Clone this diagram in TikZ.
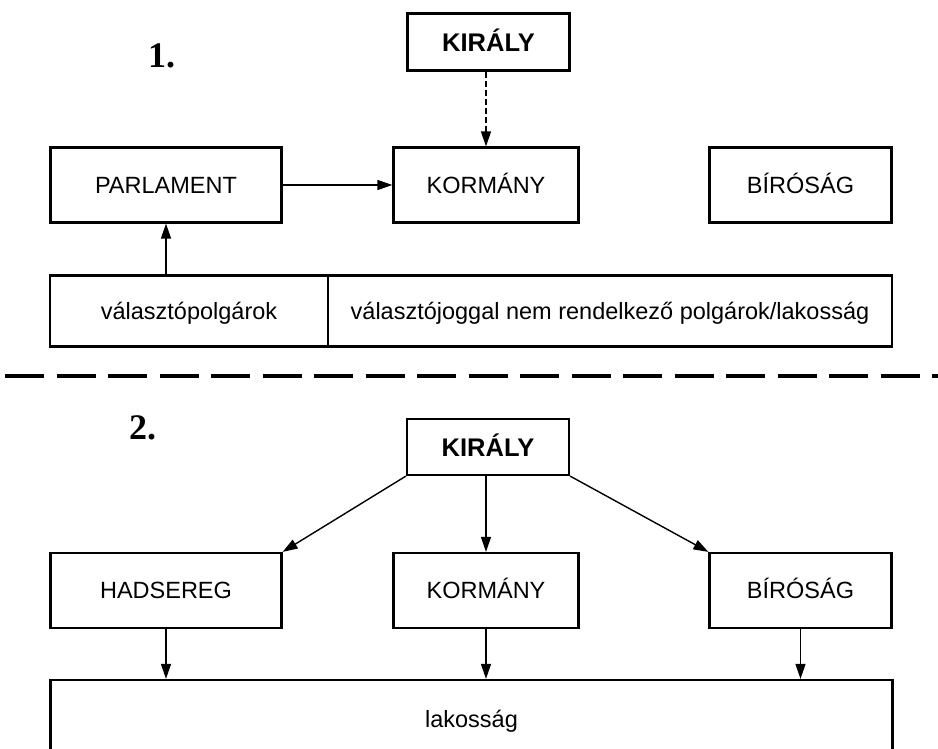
\documentclass[tikz,border=0pt]{standalone}
\usepackage{fontspec}
\setmainfont{Liberation Sans}
\newfontfamily\numfont{Liberation Serif}
\usetikzlibrary{arrows.meta}
\begin{document}
\begin{tikzpicture}[x=1pt,y=-1pt,
  box/.style={draw, line width=2.2pt, inner sep=0pt, text height=16.8pt, text depth=0pt, font=\fontsize{23.5}{26}\selectfont},
  kbox/.style={box, text height=18.3pt, font=\fontsize{25.5}{28}\selectfont\bfseries},
  arr/.style={line width=1.4pt, -{Triangle[length=15pt,width=10pt]}},
  numlab/.style={anchor=base west, inner sep=0pt, font=\fontsize{36}{40}\selectfont\numfont\bfseries}]
\clip (0,0) rectangle (938,749);
\fill[white] (0,0) rectangle (938,749);
% --- part 1 ---
\node[numlab] (n1) at (148,68) {1.};
\node[kbox, minimum width=162pt, minimum height=57pt] (K1) at (488.5,42) {KIRÁLY};
\node[box, minimum width=231pt, minimum height=75pt] (PARL) at (166,185) {PARLAMENT};
\node[box, minimum width=185pt, minimum height=75pt] (KORM1) at (486,185) {KORMÁNY};
\node[box, minimum width=182pt, minimum height=75pt] (BIR1) at (800.5,185) {BÍRÓSÁG};
\node[box, minimum width=278pt, minimum height=71pt] (VAL) at (189,311) {választópolgárok};
\node[box, minimum width=564pt, minimum height=71pt] (NEM) at (610,311) {választójoggal nem rendelkező polgárok/lakosság};
\draw[arr, dash pattern=on 6pt off 3pt] (K1.south -| KORM1.north) -- (KORM1.north);
\draw[arr] (PARL.east) -- (KORM1.west);
\draw[arr] (PARL.south |- VAL.north) -- (PARL.south);
% --- separator ---
\coordinate (sepL) at (5,376);
\coordinate (sepR) at (940,376);
\draw[line width=4.5pt, dash pattern=on 39pt off 12.5pt] (sepL) -- (sepR);
% --- part 2 ---
\node[numlab] (n2) at (129,439) {2.};
\node[kbox, minimum width=162pt, minimum height=56pt] (K2) at (488,447) {KIRÁLY};
\node[box, minimum width=231pt, minimum height=75pt] (HAD) at (166,590.5) {HADSEREG};
\node[box, minimum width=185pt, minimum height=75pt] (KORM2) at (486,590.5) {KORMÁNY};
\node[box, minimum width=182pt, minimum height=75pt] (BIR2) at (800.5,590.5) {BÍRÓSÁG};
\node[box, minimum width=842pt, minimum height=78pt] (LAK) at (471.5,719) {lakosság};
\draw[arr] (K2.south west) -- (HAD.north east);
\draw[arr] (K2.south -| KORM2.north) -- (KORM2.north);
\draw[arr] (K2.south east) -- (BIR2.north west);
\draw[arr] (HAD.south) -- (HAD.south |- LAK.north);
\draw[arr] (KORM2.south) -- (KORM2.south |- LAK.north);
\draw[arr] (BIR2.south) -- (BIR2.south |- LAK.north);
\end{tikzpicture}
\end{document}
